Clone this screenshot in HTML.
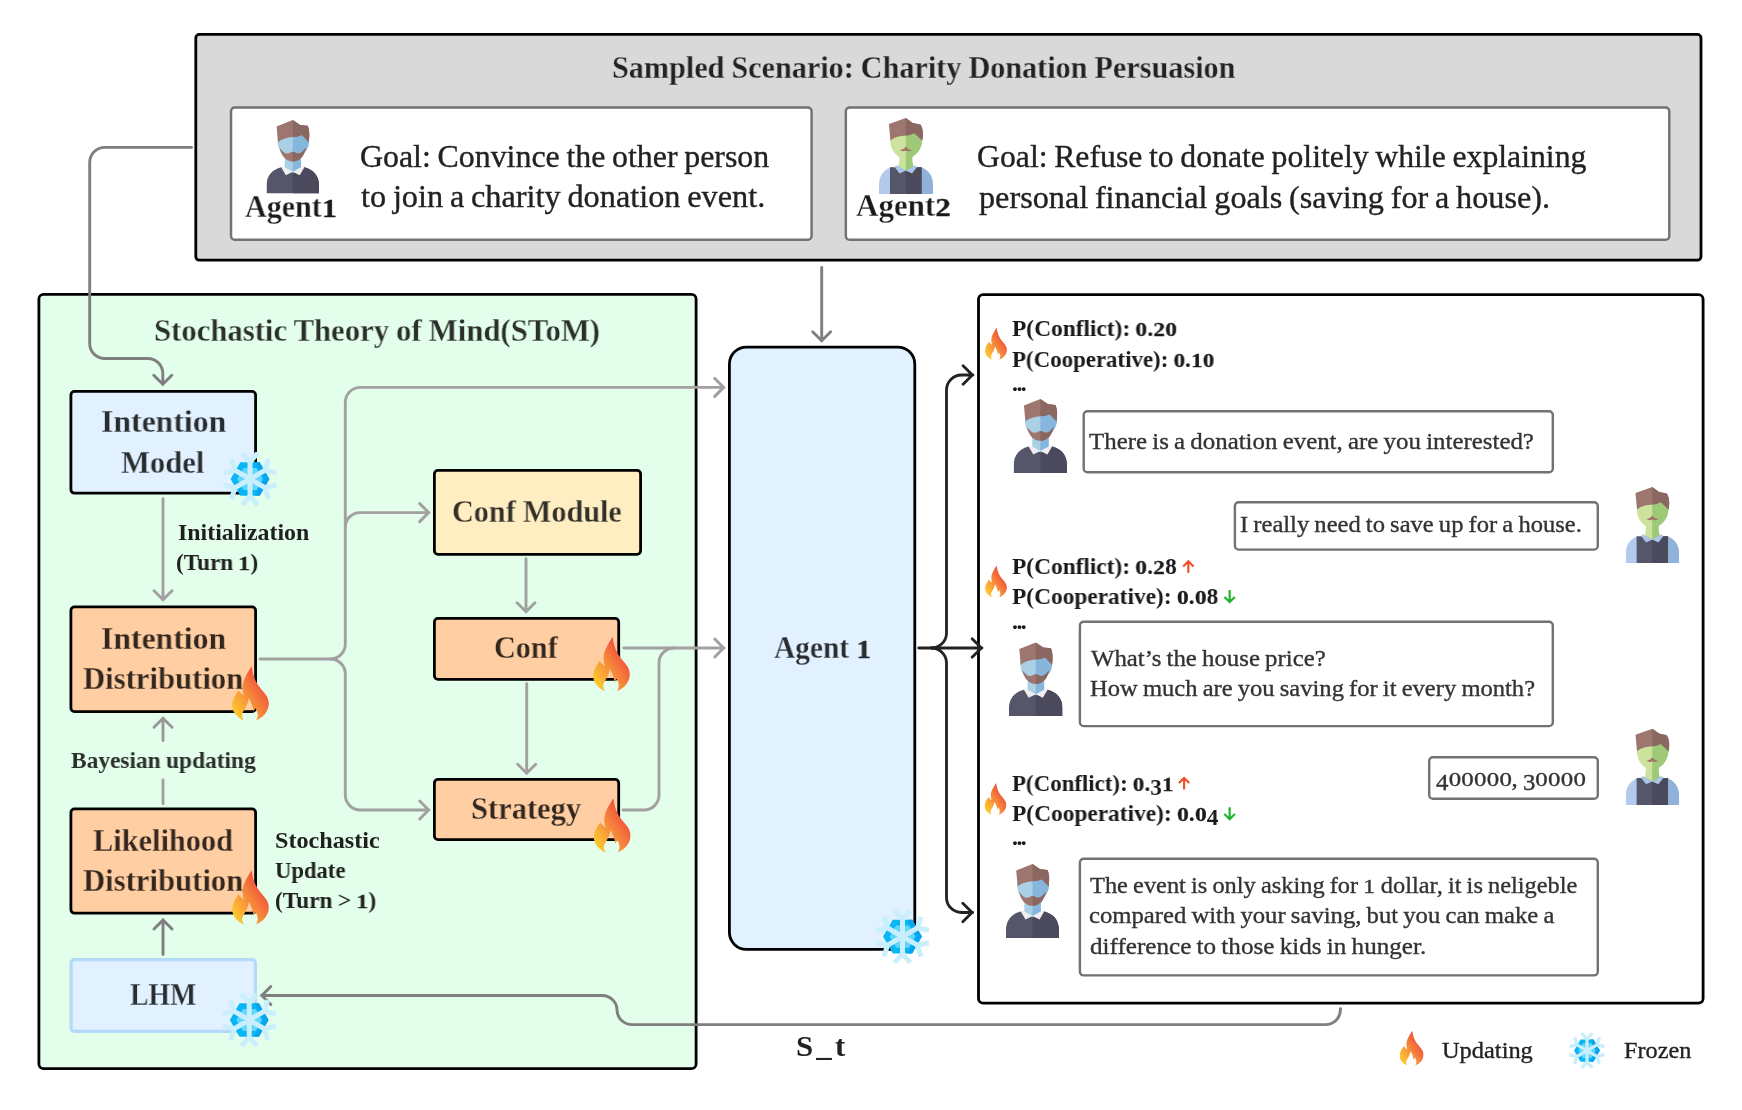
<!DOCTYPE html>
<html lang="en"><head><meta charset="utf-8"><title>SToM framework</title>
<style>
html,body{margin:0;padding:0;background:#fff}
#c{position:relative;width:1742px;height:1110px;overflow:hidden;background:#fff;font-family:"Liberation Serif",serif}
.b{position:absolute;box-sizing:border-box;border-style:solid}
.t{position:absolute;white-space:nowrap;line-height:1;transform-origin:0 0;margin:0;will-change:transform;word-spacing:-.04em;-webkit-text-stroke:.35px currentColor}
.w{font-weight:bold;-webkit-text-stroke:0;word-spacing:-.02em}
svg{position:absolute;left:0;top:0;overflow:visible}
</style></head>
<body>
<div id="c">
<svg width="1742" height="1110" viewBox="0 0 1742 1110">
<rect x="195.8" y="34.4" width="1505.2" height="225.8" rx="3.6" fill="#D9D9D9" stroke="#000" stroke-width="2.8"/>
<rect x="231.03" y="107.42" width="580.55" height="132.35" rx="3.77" fill="#fff" stroke="#727272" stroke-width="2.45"/>
<rect x="845.83" y="107.42" width="823.45" height="132.35" rx="3.77" fill="#fff" stroke="#727272" stroke-width="2.45"/>
<rect x="38.9" y="294.4" width="657.2" height="774.2" rx="4.6" fill="#E3FEEB" stroke="#000" stroke-width="2.8"/>
<rect x="70.9" y="391.4" width="184.7" height="101.8" rx="3.6" fill="#E1F1FF" stroke="#000" stroke-width="2.8"/>
<rect x="70.9" y="606.9" width="184.7" height="104.7" rx="3.6" fill="#FFCFA3" stroke="#000" stroke-width="2.8"/>
<rect x="70.9" y="808.9" width="184.7" height="104.3" rx="3.6" fill="#FFCFA3" stroke="#000" stroke-width="2.8"/>
<rect x="71.1" y="959.6" width="184.3" height="71.8" rx="3.4" fill="#E1F1FF" stroke="#B5DAF7" stroke-width="3.2"/>
<rect x="434.4" y="470.4" width="206.2" height="84.0" rx="3.6" fill="#FFEEC2" stroke="#000" stroke-width="2.8"/>
<rect x="434.4" y="618.4" width="184.3" height="61.0" rx="3.6" fill="#FFCFA3" stroke="#000" stroke-width="2.8"/>
<rect x="434.4" y="779.4" width="184.3" height="60.2" rx="3.6" fill="#FFCFA3" stroke="#000" stroke-width="2.8"/>
<rect x="729.4" y="347.1" width="185.4" height="602.3" rx="17.1" fill="#E1F1FF" stroke="#000" stroke-width="2.8"/>
<rect x="978.5" y="294.6" width="724.6" height="708.6" rx="4.6" fill="#fff" stroke="#000" stroke-width="2.8"/>
<rect x="1083.7" y="411.2" width="469.1" height="61.1" rx="3.8" fill="#fff" stroke="#727272" stroke-width="2.4"/>
<rect x="1234.9" y="502.2" width="362.9" height="47.4" rx="3.8" fill="#fff" stroke="#727272" stroke-width="2.4"/>
<rect x="1079.9" y="621.8" width="472.9" height="104.3" rx="3.8" fill="#fff" stroke="#727272" stroke-width="2.4"/>
<rect x="1429.2" y="757.2" width="168.6" height="41.6" rx="3.8" fill="#fff" stroke="#727272" stroke-width="2.4"/>
<rect x="1079.9" y="858.7" width="517.9" height="116.7" rx="3.8" fill="#fff" stroke="#727272" stroke-width="2.4"/>
</svg>
<svg width="1742" height="1110" viewBox="0 0 1742 1110" fill="none" stroke-linecap="round" stroke-linejoin="miter">
<path d="M191.5,147.4 H104.7 C96.42,147.40 89.70,154.12 89.7,162.4 V343.5 C89.70,351.78 96.42,358.50 104.7,358.5 H147.8 C156.08,358.50 162.80,365.22 162.8,373.5 V384.5 M153.8,375.2 L162.8,384.2 L171.8,375.2" stroke="#7F7F7F" stroke-width="2.9"/>
<path d="M821.7,267.5 V341 M812.7,331.7 L821.7,340.7 L830.7,331.7" stroke="#7F7F7F" stroke-width="2.9"/>
<path d="M163,498.7 V600 M154,590.7 L163,599.7 L172,590.7" stroke="#A2A0A0" stroke-width="2.9"/>
<path d="M260,659 H330.3 C338.58,659.00 345.30,652.28 345.3,644 V402.4 C345.30,394.12 352.02,387.40 360.3,387.4 H723.5 M714.7,378.4 L723.7,387.4 L714.7,396.4" stroke="#A2A0A0" stroke-width="2.9"/>
<path d="M330.3,659 C338.58,659.00 345.30,665.72 345.3,674 V795 C345.30,803.28 352.02,810.00 360.3,810 H429 M419.7,801 L428.7,810 L419.7,819" stroke="#A2A0A0" stroke-width="2.9"/>
<path d="M345.3,527.2 C345.30,519.14 351.84,512.60 359.9,512.6 H429 M419.7,503.6 L428.7,512.6 L419.7,521.6" stroke="#A2A0A0" stroke-width="2.9"/>
<path d="M526,558.7 V612 M517,602.7 L526,611.7 L535,602.7" stroke="#A2A0A0" stroke-width="2.9"/>
<path d="M526.7,683.7 V773.5 M517.7,764.2 L526.7,773.2 L535.7,764.2" stroke="#A2A0A0" stroke-width="2.9"/>
<path d="M623.8,648 H724 M714.7,639 L723.7,648 L714.7,657" stroke="#A2A0A0" stroke-width="2.9"/>
<path d="M623,810 H644 C652.28,810.00 659.00,803.28 659,795 V663 C659.00,654.72 665.72,648.00 674,648" stroke="#A2A0A0" stroke-width="2.9"/>
<path d="M163,780 V803.7" stroke="#A2A0A0" stroke-width="2.9"/>
<path d="M163,740.5 V718 M154,727.3 L163,718.3 L172,727.3" stroke="#999" stroke-width="2.9"/>
<path d="M163,954.5 V919.7 M154,929 L163,920 L172,929" stroke="#7F7F7F" stroke-width="2.9"/>
<path d="M1340.5,1008.7 V1009.6 C1340.50,1017.88 1333.78,1024.60 1325.5,1024.6 H632 C623.72,1024.60 617.00,1018.06 617,1010 C617.00,1001.99 610.28,995.50 602,995.5 H261.5 M270.8,986.5 L261.8,995.5 L270.8,1004.5" stroke="#7F7F7F" stroke-width="2.9"/>
<path d="M918.7,648 H982 M972.1,638.7 L981.4,648 L972.1,657.3" stroke="#222" stroke-width="2.8"/>
<path d="M931.5,648 C939.78,648.00 946.50,641.28 946.5,633 V390 C946.50,381.72 953.22,375.00 961.5,375 H973 M963.1,365.7 L972.4,375 L963.1,384.3" stroke="#222" stroke-width="2.8"/>
<path d="M931.5,648 C939.78,648.00 946.50,654.72 946.5,663 V897.5 C946.50,905.78 953.22,912.50 961.5,912.5 H972.7 M962.8,903.2 L972.1,912.5 L962.8,921.8" stroke="#222" stroke-width="2.8"/>
</svg>
<div id="title" class="t w" style="left:612.12px;top:51px;font-size:32px;color:#222;transform:scaleX(0.9437);-webkit-text-stroke:.3px #D9D9D9">Sampled Scenario: Charity Donation Persuasion</div>
<div id="a1" class="t w" style="left:245.4px;top:191px;font-size:31px;color:#1a1a1a;transform:scaleX(0.9669);-webkit-text-stroke:.3px #fff">Agent<span style="display:inline-block;font-size:.82em;transform:scaleX(1.22);margin:0 .06em;-webkit-text-stroke:.3px currentColor">1</span></div>
<div id="a2" class="t w" style="left:856.4px;top:190px;font-size:31px;color:#1a1a1a;transform:scaleX(0.9977);-webkit-text-stroke:.3px #fff">Agent<span style="display:inline-block;font-size:.82em;transform:scaleX(1.22);margin:0 .06em;-webkit-text-stroke:.3px currentColor">2</span></div>
<div id="g1a" class="t" style="left:359.59px;top:141px;font-size:31px;color:#222;transform:scaleX(1.0284)">Goal: Convince the other person</div>
<div id="g1b" class="t" style="left:360.87px;top:181px;font-size:31px;color:#222;transform:scaleX(1.0417)">to join a charity donation event.</div>
<div id="g2a" class="t" style="left:976.61px;top:141px;font-size:31px;color:#222;transform:scaleX(1.0239)">Goal: Refuse to donate politely while explaining</div>
<div id="g2b" class="t" style="left:978.72px;top:182px;font-size:31px;color:#222;transform:scaleX(1.0391)">personal financial goals (saving for a house).</div>
<div id="stom" class="t w" style="left:153.94px;top:314px;font-size:32px;color:#2b2f2c;transform:scaleX(0.9596);-webkit-text-stroke:.3px #E3FEEB">Stochastic Theory of Mind(SToM)</div>
<div id="im1" class="t w" style="left:100.53px;top:405px;font-size:32px;color:#2a2d30;transform:scaleX(0.9921);-webkit-text-stroke:.3px #E1F1FF">Intention</div>
<div id="im2" class="t w" style="left:121.15px;top:446px;font-size:32px;color:#2a2d30;transform:scaleX(0.9562);-webkit-text-stroke:.3px #E1F1FF">Model</div>
<div id="init1" class="t w" style="left:177.58px;top:521px;font-size:23.5px;color:#1f1f1f;transform:scaleX(1.0154)">Initialization</div>
<div id="init2" class="t w" style="left:176.26px;top:551px;font-size:23.5px;color:#1f1f1f;transform:scaleX(0.989)">(Turn <span style="display:inline-block;font-size:.82em;transform:scaleX(1.22);margin:0 .06em;-webkit-text-stroke:.3px currentColor">1</span>)</div>
<div id="id1" class="t w" style="left:100.74px;top:622px;font-size:32px;color:#33261e;transform:scaleX(0.9907);-webkit-text-stroke:.3px #FFCFA3">Intention</div>
<div id="id2" class="t w" style="left:82.78px;top:662px;font-size:32px;color:#33261e;transform:scaleX(0.9592);-webkit-text-stroke:.3px #FFCFA3">Distribution</div>
<div id="bayes" class="t w" style="left:70.96px;top:749px;font-size:23.5px;color:#2b302c;transform:scaleX(0.995)">Bayesian updating</div>
<div id="ld1" class="t w" style="left:92.83px;top:824px;font-size:32px;color:#33261e;transform:scaleX(0.9487);-webkit-text-stroke:.3px #FFCFA3">Likelihood</div>
<div id="ld2" class="t w" style="left:82.78px;top:864px;font-size:32px;color:#33261e;transform:scaleX(0.9592);-webkit-text-stroke:.3px #FFCFA3">Distribution</div>
<div id="st1" class="t w" style="left:274.79px;top:829px;font-size:23.5px;color:#1f1f1f;transform:scaleX(1.0277)">Stochastic</div>
<div id="st2" class="t w" style="left:275.3px;top:859px;font-size:23.5px;color:#1f1f1f;transform:scaleX(0.9633)">Update</div>
<div id="st3" class="t w" style="left:274.75px;top:889px;font-size:23.5px;color:#1f1f1f;transform:scaleX(0.9935)">(Turn &gt; <span style="display:inline-block;font-size:.82em;transform:scaleX(1.22);margin:0 .06em;-webkit-text-stroke:.3px currentColor">1</span>)</div>
<div id="lhm" class="t w" style="left:129.8px;top:978px;font-size:32px;color:#2a2d30;transform:scaleX(0.8682);-webkit-text-stroke:.3px #E1F1FF">LHM</div>
<div id="cm" class="t w" style="left:451.89px;top:495px;font-size:32px;color:#33302a;transform:scaleX(0.9446);-webkit-text-stroke:.3px #FFEEC2">Conf Module</div>
<div id="conf" class="t w" style="left:494.04px;top:631px;font-size:32px;color:#33261e;transform:scaleX(0.9433);-webkit-text-stroke:.3px #FFCFA3">Conf</div>
<div id="strat" class="t w" style="left:471.2px;top:792px;font-size:32px;color:#33261e;transform:scaleX(0.9533);-webkit-text-stroke:.3px #FFCFA3">Strategy</div>
<div id="ag1" class="t w" style="left:773.53px;top:631px;font-size:32px;color:#2a2d30;transform:scaleX(0.9195);-webkit-text-stroke:.3px #E1F1FF">Agent <span style="display:inline-block;font-size:.82em;transform:scaleX(1.22);margin:0 .06em;-webkit-text-stroke:.3px currentColor">1</span></div>
<div id="p1a" class="t w" style="left:1012.42px;top:317px;font-size:23.5px;color:#1a1a1a;transform:scaleX(0.9952)">P(Conflict): <span style="display:inline-block;font-size:.82em;transform:scaleX(1.22);margin:0 .06em;-webkit-text-stroke:.3px currentColor">0</span>.<span style="display:inline-block;font-size:.82em;transform:scaleX(1.22);margin:0 .06em;-webkit-text-stroke:.3px currentColor">2</span><span style="display:inline-block;font-size:.82em;transform:scaleX(1.22);margin:0 .06em;-webkit-text-stroke:.3px currentColor">0</span></div>
<div id="p1b" class="t w" style="left:1012.44px;top:348px;font-size:23.5px;color:#1a1a1a;transform:scaleX(0.9737)">P(Cooperative): <span style="display:inline-block;font-size:.82em;transform:scaleX(1.22);margin:0 .06em;-webkit-text-stroke:.3px currentColor">0</span>.<span style="display:inline-block;font-size:.82em;transform:scaleX(1.22);margin:0 .06em;-webkit-text-stroke:.3px currentColor">1</span><span style="display:inline-block;font-size:.82em;transform:scaleX(1.22);margin:0 .06em;-webkit-text-stroke:.3px currentColor">0</span></div>
<div id="p2a" class="t w" style="left:1012.42px;top:555px;font-size:23.5px;color:#1a1a1a;transform:scaleX(0.9941)">P(Conflict): <span style="display:inline-block;font-size:.82em;transform:scaleX(1.22);margin:0 .06em;-webkit-text-stroke:.3px currentColor">0</span>.<span style="display:inline-block;font-size:.82em;transform:scaleX(1.22);margin:0 .06em;-webkit-text-stroke:.3px currentColor">2</span>8</div>
<div id="p2b" class="t w" style="left:1012.42px;top:585px;font-size:23.5px;color:#1a1a1a;transform:scaleX(0.994)">P(Cooperative): <span style="display:inline-block;font-size:.82em;transform:scaleX(1.22);margin:0 .06em;-webkit-text-stroke:.3px currentColor">0</span>.<span style="display:inline-block;font-size:.82em;transform:scaleX(1.22);margin:0 .06em;-webkit-text-stroke:.3px currentColor">0</span>8</div>
<div id="p3a" class="t w" style="left:1012.44px;top:772px;font-size:23.5px;color:#1a1a1a;transform:scaleX(0.9742)">P(Conflict): <span style="display:inline-block;font-size:.82em;transform:scaleX(1.22);margin:0 .06em;-webkit-text-stroke:.3px currentColor">0</span>.<span style="position:relative;top:.16em">3</span><span style="display:inline-block;font-size:.82em;transform:scaleX(1.22);margin:0 .06em;-webkit-text-stroke:.3px currentColor">1</span></div>
<div id="p3b" class="t w" style="left:1012.42px;top:802px;font-size:23.5px;color:#1a1a1a;transform:scaleX(0.9947)">P(Cooperative): <span style="display:inline-block;font-size:.82em;transform:scaleX(1.22);margin:0 .06em;-webkit-text-stroke:.3px currentColor">0</span>.<span style="display:inline-block;font-size:.82em;transform:scaleX(1.22);margin:0 .06em;-webkit-text-stroke:.3px currentColor">0</span><span style="position:relative;top:.16em">4</span></div>
<div id="b1" class="t" style="left:1089.02px;top:430px;font-size:23.5px;color:#333;transform:scaleX(1.0589)">There is a donation event, are you interested?</div>
<div id="b2" class="t" style="left:1239.57px;top:513px;font-size:23.5px;color:#333;transform:scaleX(1.0445)">I really need to save up for a house.</div>
<div id="b3a" class="t" style="left:1090.99px;top:647px;font-size:23.5px;color:#333;transform:scaleX(1.0559)">What’s the house price?</div>
<div id="b3b" class="t" style="left:1090.31px;top:677px;font-size:23.5px;color:#333;transform:scaleX(1.0452)">How much are you saving for it every month?</div>
<div id="b4" class="t" style="left:1435.76px;top:767px;font-size:23.5px;color:#333;transform:scaleX(1.0578)"><span style="position:relative;top:.16em">4</span><span style="display:inline-block;font-size:.82em;transform:scaleX(1.22);margin:0 .06em;-webkit-text-stroke:.3px currentColor">0</span><span style="display:inline-block;font-size:.82em;transform:scaleX(1.22);margin:0 .06em;-webkit-text-stroke:.3px currentColor">0</span><span style="display:inline-block;font-size:.82em;transform:scaleX(1.22);margin:0 .06em;-webkit-text-stroke:.3px currentColor">0</span><span style="display:inline-block;font-size:.82em;transform:scaleX(1.22);margin:0 .06em;-webkit-text-stroke:.3px currentColor">0</span><span style="display:inline-block;font-size:.82em;transform:scaleX(1.22);margin:0 .06em;-webkit-text-stroke:.3px currentColor">0</span>, <span style="position:relative;top:.16em">3</span><span style="display:inline-block;font-size:.82em;transform:scaleX(1.22);margin:0 .06em;-webkit-text-stroke:.3px currentColor">0</span><span style="display:inline-block;font-size:.82em;transform:scaleX(1.22);margin:0 .06em;-webkit-text-stroke:.3px currentColor">0</span><span style="display:inline-block;font-size:.82em;transform:scaleX(1.22);margin:0 .06em;-webkit-text-stroke:.3px currentColor">0</span><span style="display:inline-block;font-size:.82em;transform:scaleX(1.22);margin:0 .06em;-webkit-text-stroke:.3px currentColor">0</span></div>
<div id="b5a" class="t" style="left:1090.48px;top:874px;font-size:23.5px;color:#333;transform:scaleX(1.0381)">The event is only asking for <span style="display:inline-block;font-size:.82em;transform:scaleX(1.22);margin:0 .06em;-webkit-text-stroke:.3px currentColor">1</span> dollar, it is neligeble</div>
<div id="b5b" class="t" style="left:1089.43px;top:904px;font-size:23.5px;color:#333;transform:scaleX(1.0496)">compared with your saving, but you can make a</div>
<div id="b5c" class="t" style="left:1089.7px;top:935px;font-size:23.5px;color:#333;transform:scaleX(1.0685)">difference to those kids in hunger.</div>
<div id="d1" class="t w" style="left:1012.32px;top:372px;font-size:23.5px;color:#1a1a1a;transform:scaleX(1.0097);letter-spacing:-1.5px">...</div>
<div id="d2" class="t w" style="left:1011.82px;top:610px;font-size:23.5px;color:#1a1a1a;transform:scaleX(1.0097);letter-spacing:-1.5px">...</div>
<div id="d3" class="t w" style="left:1011.82px;top:826px;font-size:23.5px;color:#1a1a1a;transform:scaleX(1.0097);letter-spacing:-1.5px">...</div>
<div id="st" class="t w" style="left:795.88px;top:1032px;font-size:29px;color:#222;transform:scaleX(1.0635);letter-spacing:3px">S_t</div>
<div id="upd" class="t" style="left:1441.76px;top:1039px;font-size:23.5px;color:#222;transform:scaleX(1.0385)">Updating</div>
<div id="frz" class="t" style="left:1624.24px;top:1039px;font-size:23.5px;color:#222;transform:scaleX(1.0304)">Frozen</div>
<svg width="0" height="0" style="position:absolute"><defs>
<linearGradient id="fg" x1="0.08" y1="0.88" x2="0.78" y2="0.2"><stop offset="0" stop-color="#FDC92E"/><stop offset="0.45" stop-color="#F7923A"/><stop offset="1" stop-color="#EF4A3E"/></linearGradient>
<symbol id="flame" viewBox="0 0 37 55" preserveAspectRatio="none"><path fill="url(#fg)" d="M19.7,0.2 C16.5,5.5 10.4,13.5 10.6,22 C10.65,24.8 11.1,27.3 11.9,29.4 C9.8,28.3 7.6,26.4 6.7,24.1 C4.2,28.4 0.2,33 0.2,39.2 C0.2,46.2 5.2,51.6 12.2,54.6 C10.7,52.8 9.9,50.7 10.2,48.6 C10.8,44.6 15.6,40.8 16.8,32.3 C19.2,36 21.1,40.8 21.6,46 C22.1,44.2 22.9,43 23.8,42.2 C24.6,44.5 26,46.4 25.7,49.6 C25.5,51.6 24.8,53.2 23.9,54.6 C31,51.6 36.8,45.6 36.8,37.6 C36.8,29.2 29.2,24.6 25.1,17.6 C21.6,11.6 20.3,6 19.7,0.2 Z"/></symbol>
<symbol id="snow" viewBox="0 0 54 54"><polygon points="46.40,27.00 36.70,43.80 17.30,43.80 7.60,27.00 17.30,10.20 36.70,10.20" fill="#08B6F6"/><polygon points="36.70,10.20 46.40,27 36.70,43.80 31.85,43.80 40.97,27 31.85,10.20" fill="#0AA4EE"/><polygon points="39.80,27.00 33.40,38.09 20.60,38.09 14.20,27.00 20.60,15.91 33.40,15.91" fill="#60D6FA"/><path d="M27,27 L27.00,9.80 M19.04,0.96 L27.00,9.80 L34.96,0.96 M27,27 L41.90,18.40 M45.57,7.08 L41.90,18.40 L53.54,20.87 M27,27 L41.90,35.60 M53.54,33.13 L41.90,35.60 L45.57,46.92 M27,27 L27.00,44.20 M34.96,53.04 L27.00,44.20 L19.04,53.04 M27,27 L12.10,35.60 M8.43,46.92 L12.10,35.60 L0.46,33.13 M27,27 L12.10,18.40 M0.46,20.87 L12.10,18.40 L8.43,7.08" stroke="#C9EEFC" stroke-width="5" stroke-linecap="butt" stroke-linejoin="round" fill="none"/></symbol>
<clipPath id="rh1"><rect x="26.5" y="-1" width="40" height="90"/></clipPath><clipPath id="rh2"><rect x="26.8" y="-1" width="40" height="90"/></clipPath>
<symbol id="av1" viewBox="0 0 53 74" preserveAspectRatio="none"><path d="M0,74 V66 C0,57 5,50 14.5,47.5 L26.5,52 L38.5,47.5 C48,50 53,57 53,66 V74 Z" fill="#56566B"/><path d="M0,74 V66 C0,57 5,50 14.5,47.5 L26.5,52 L38.5,47.5 C48,50 53,57 53,66 V74 Z" fill="#4A4A5C" clip-path="url(#rh1)"/><path d="M18.4,38 H34.8 V49.5 L26.5,53.2 L18.4,49.5 Z" fill="#A9D0E4"/><path d="M18.4,38 H34.8 V49.5 L26.5,53.2 L18.4,49.5 Z" fill="#86B6DB" clip-path="url(#rh1)"/><path d="M16,46.2 L26.5,52 L19.5,55.5 L14.8,47.5 Z M37,46.2 L26.5,52 L33.5,55.5 L38.2,47.5 Z" fill="#EFEFF1"/><path d="M11.2,13 H42.8 V22 C42.8,27 40,31 36,36 H17 C13,31 11.2,27 11.2,22 Z" fill="#A9D0E4"/><path d="M11.2,13 H42.8 V22 C42.8,27 40,31 36,36 H17 C13,31 11.2,27 11.2,22 Z" fill="#86B6DB" clip-path="url(#rh1)"/><path d="M13.3,28.3 C15.5,30 17,33.6 20.5,33.8 C23,34 24.5,31.8 26.5,32 C28.5,31.8 30,34 32.5,33.8 C36,33.6 37.5,30 39.7,28.3 C39.2,31 38.2,33.6 36.7,36 C34.5,39.5 30.5,41.8 26.5,41.8 C22.5,41.8 18.5,39.5 16.3,36 C14.8,33.6 13.8,31 13.3,28.3 Z" fill="#9E7670"/><path d="M13.3,28.3 C15.5,30 17,33.6 20.5,33.8 C23,34 24.5,31.8 26.5,32 C28.5,31.8 30,34 32.5,33.8 C36,33.6 37.5,30 39.7,28.3 C39.2,31 38.2,33.6 36.7,36 C34.5,39.5 30.5,41.8 26.5,41.8 C22.5,41.8 18.5,39.5 16.3,36 C14.8,33.6 13.8,31 13.3,28.3 Z" fill="#8B6762" clip-path="url(#rh1)"/><path d="M10.2,6.5 L26.5,0 L34,5 L41.6,5.9 C43.6,10.5 43.4,16.5 42.6,22.4 C40,19.5 37.5,17 35.6,15.2 C33.5,16.5 30,17.1 26.5,17.2 C21,17.6 15.5,19 11.6,22.3 Z" fill="#9E7670"/><path d="M10.2,6.5 L26.5,0 L34,5 L41.6,5.9 C43.6,10.5 43.4,16.5 42.6,22.4 C40,19.5 37.5,17 35.6,15.2 C33.5,16.5 30,17.1 26.5,17.2 C21,17.6 15.5,19 11.6,22.3 Z" fill="#8B6762" clip-path="url(#rh1)"/></symbol>
<symbol id="av2" viewBox="0 0 54 76" preserveAspectRatio="none"><path d="M0,76 V67 C0,58 4.5,52 11.6,49.3 V76 Z" fill="#B4CAEC"/><path d="M54,76 V67 C54,58 49.5,52 42.4,49.3 V76 Z" fill="#90B1D9"/><path d="M11,49.2 H42.6 V76 H11 Z" fill="#56566B"/><path d="M11,49.2 H42.6 V76 H11 Z" fill="#4A4A5C" clip-path="url(#rh2)"/><path d="M11.3,13 H43 V24 C42.3,30 39,35.5 33.3,39 C33.1,43 33.6,46 34.6,48.5 L26.8,52.7 L19,48.5 C20,46 20.5,43 20.3,39 C14.6,35.5 12,30 11.3,24 Z" fill="#CCE29D"/><path d="M11.3,13 H43 V24 C42.3,30 39,35.5 33.3,39 C33.1,43 33.6,46 34.6,48.5 L26.8,52.7 L19,48.5 C20,46 20.5,43 20.3,39 C14.6,35.5 12,30 11.3,24 Z" fill="#9DC979" clip-path="url(#rh2)"/><path d="M17.2,47.2 L26.8,52.6 L20.6,55.4 L15.6,49 Z M36.4,47.2 L26.8,52.6 L33,55.4 L38,49 Z" fill="#A9C6E8"/><path d="M26.8,28.4 C25.5,31 23,31.5 20.8,32 C22.5,33.6 25,33.4 26.8,32.4 C28.6,33.4 31.1,33.6 32.8,32 C30.6,31.5 28.1,31 26.8,28.4 Z" fill="#A4706A"/><path d="M9.9,6 L26.8,0 L33.8,4.9 L41.4,6.4 C44.2,10.5 44.4,16.5 43.3,22.6 C40.5,20 37.5,17 35.2,15 C33,16.5 30,17.4 26.8,17.6 C21,18 15.5,19.2 11.4,22.4 Z" fill="#9E7670"/><path d="M9.9,6 L26.8,0 L33.8,4.9 L41.4,6.4 C44.2,10.5 44.4,16.5 43.3,22.6 C40.5,20 37.5,17 35.2,15 C33,16.5 30,17.4 26.8,17.6 C21,18 15.5,19.2 11.4,22.4 Z" fill="#8B6762" clip-path="url(#rh2)"/></symbol>
</defs></svg>
<svg width="1742" height="1110" viewBox="0 0 1742 1110">
<use href="#av1" x="266.5" y="120" width="52.6" height="73.5"/>
<use href="#av1" x="1013.7" y="399" width="53.3" height="74"/>
<use href="#av1" x="1009" y="642.5" width="53.5" height="73.5"/>
<use href="#av1" x="1006" y="864" width="53" height="74"/>
<use href="#av2" x="879" y="118" width="54" height="76"/>
<use href="#av2" x="1625.7" y="487" width="53.5" height="76"/>
<use href="#av2" x="1625.7" y="728.7" width="53.5" height="76.3"/>
<use href="#flame" x="232" y="666" width="37" height="55"/>
<use href="#flame" x="232" y="870" width="37" height="55"/>
<use href="#flame" x="593" y="636.6" width="37" height="55"/>
<use href="#flame" x="593.7" y="798" width="37" height="55"/>
<use href="#flame" x="985" y="327.5" width="22" height="32.5"/>
<use href="#flame" x="985" y="565.5" width="22" height="32"/>
<use href="#flame" x="984.5" y="783" width="22" height="32"/>
<use href="#flame" x="1399.5" y="1030.7" width="24.2" height="35"/>
<use href="#snow" x="223.0" y="452.0" width="54" height="54"/>
<use href="#snow" x="222.2" y="993.0" width="54" height="54"/>
<use href="#snow" x="875.5" y="909.6" width="54" height="54"/>
<use href="#snow" x="1569.0" y="1032.6" width="36" height="36"/>
<path d="M1188.35,572.8 V561.8000000000001 M1183.1499999999999,566.5 L1188.35,561.3 L1193.55,566.5" stroke="#F04E23" stroke-width="2.15" fill="none"/>
<path d="M1184.1,789.4 V778.4000000000001 M1178.8999999999999,783.1 L1184.1,777.9 L1189.3,783.1" stroke="#F04E23" stroke-width="2.15" fill="none"/>
<path d="M1229.65,590.1 V601.5999999999999 M1224.45,596.9 L1229.65,602.1 L1234.8500000000001,596.9" stroke="#1DB42A" stroke-width="2.15" fill="none"/>
<path d="M1229.65,807.3 V818.8 M1224.45,814.1 L1229.65,819.3 L1234.8500000000001,814.1" stroke="#1DB42A" stroke-width="2.15" fill="none"/>
</svg>
</div>
</body></html>
